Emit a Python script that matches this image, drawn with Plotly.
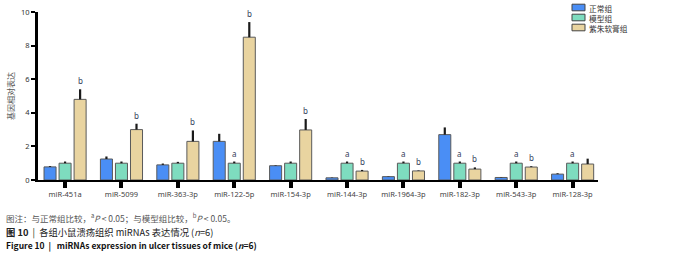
import plotly.graph_objects as go

categories = ["miR-451a", "miR-5099", "miR-363-3p", "miR-122-5p", "miR-154-3p",
              "miR-144-3p", "miR-1964-3p", "miR-182-3p", "miR-543-3p", "miR-128-3p"]
group_names = ["正常组", "模型组", "紫朱软膏组"]

normal = [0.78, 1.25, 0.90, 2.30, 0.85, 0.13, 0.20, 2.70, 0.15, 0.35]
normal_err = [0.05, 0.15, 0.08, 0.45, 0.03, 0.02, 0.02, 0.43, 0.02, 0.05]
model = [1.00, 1.00, 1.00, 1.00, 1.00, 1.00, 1.00, 1.00, 1.00, 1.00]
model_err = [0.10, 0.10, 0.08, 0.10, 0.10, 0.10, 0.10, 0.10, 0.10, 0.10]
ointment = [4.80, 3.00, 2.30, 8.50, 2.98, 0.53, 0.54, 0.65, 0.77, 0.95]
ointment_err = [0.60, 0.35, 0.65, 0.90, 0.65, 0.07, 0.03, 0.10, 0.05, 0.32]

model_sig = ["", "", "", "a", "", "a", "a", "a", "a", "a"]
ointment_sig = ["b", "b", "b", "b", "b", "b", "b", "b", "b", ""]

y_ticks = [0, 2, 4, 6, 8, 10]
y_title = "基因相对表达"
note_line = "图注：与正常组比较，<sup>a</sup><i>P</i> < 0.05；与模型组比较，<sup>b</sup><i>P</i> < 0.05。"
cn_title = "<b>图 10</b>  |  各组小鼠溃疡组织 miRNAs 表达情况 (<i>n</i>=6)"
en_title = "<b>Figure 10  |   miRNAs expression in ulcer tissues of mice (<i>n</i>=6)</b>"

colors = ["#4a8ef5", "#7edcbf", "#e9d4a0"]
W, H = 700, 260
ML, MR, MT, MB = 38, 102, 12, 80
PW, PH = W - ML - MR, H - MT - MB


def px_x(px):
    return (px - ML) / PW


def px_y(py):
    return (H - MB - py) / PH


fig = go.Figure()
series = [(normal, normal_err), (model, model_err), (ointment, ointment_err)]
for name, (vals, errs), col in zip(group_names, series, colors):
    fig.add_trace(go.Bar(
        x=categories, y=vals, name=name,
        marker=dict(color=col, line=dict(color="#5a5a5a", width=1)),
        error_y=dict(type="data", symmetric=False, array=errs,
                     arrayminus=[0] * len(errs), color="#1a1a1a",
                     thickness=2.2, width=0),
        showlegend=False,
    ))

offset = 0.266
for i in range(len(categories)):
    for sig, vals, errs, off in [(model_sig, model, model_err, 0.0),
                                 (ointment_sig, ointment, ointment_err, offset)]:
        if sig[i]:
            fig.add_annotation(x=i + off, y=vals[i] + errs[i], text=sig[i],
                               showarrow=False, yanchor="bottom", yshift=1,
                               font=dict(size=8, color="#34405a",
                                         family="Noto Sans"))

# legend (drawn compactly to match the reference)
for k, col in enumerate(colors):
    cy = 7.5 + 10 * k
    fig.add_shape(type="rect", xref="paper", yref="paper",
                  x0=px_x(572), x1=px_x(585), y0=px_y(cy + 3.3), y1=px_y(cy - 3.3),
                  fillcolor=col, line=dict(color="#444444", width=1))
fig.add_annotation(xref="paper", yref="paper", x=px_x(588), y=px_y(2),
                   text="<br>".join(group_names), showarrow=False,
                   xanchor="left", yanchor="top", align="left", borderpad=0,
                   font=dict(size=7.7, color="#333333", family="Noto Sans CJK SC"))

# captions
for text, cy, col, size in [(note_line, 217.5, "#555555", 8.5),
                            (cn_title, 232, "#222222", 9.3),
                            (en_title, 245.5, "#111111", 8.5)]:
    fig.add_annotation(xref="paper", yref="paper", x=px_x(5), y=px_y(cy),
                       text=text, showarrow=False, xanchor="left", yanchor="middle",
                       borderpad=0,
                       font=dict(size=size, color=col, family="Noto Sans CJK SC"))

fig.update_layout(
    width=W, height=H,
    margin=dict(l=ML, r=MR, t=MT, b=MB, autoexpand=False),
    paper_bgcolor="white", plot_bgcolor="white",
    barmode="group", bargap=0.2, bargroupgap=0.2,
    font=dict(family="Noto Sans", color="#444444"),
)
fig.update_xaxes(
    range=[-0.48, 9.45], showline=True, linecolor="black", linewidth=2,
    ticks="outside", ticklen=6, tickwidth=4, tickcolor="black", automargin=False,
    tickfont=dict(size=7.5, color="#444444"), showgrid=False, zeroline=False,
)
fig.update_yaxes(
    range=[0, 10], tickvals=y_ticks, showline=True, linecolor="black",
    linewidth=3, ticks="outside", ticklen=4, tickwidth=2, tickcolor="black",
    automargin=False,
    tickfont=dict(size=7.5, color="#333333"), showgrid=False, zeroline=False,
    title=dict(text=y_title, font=dict(size=8, color="#555555",
                                       family="Noto Sans CJK SC"), standoff=6),
)

fig.write_html("out.html", config={"displayModeBar": False},
               post_script="document.body.style.margin='0';")
